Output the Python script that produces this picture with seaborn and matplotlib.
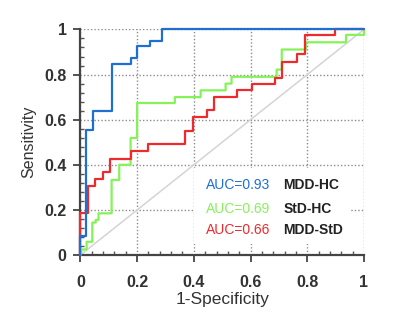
import pandas as pd
import matplotlib.pyplot as plt
import matplotlib.patches as mpatches
from matplotlib.ticker import MultipleLocator
import seaborn as sns

# ROC step corners
mdd_hc_fpr = [0, 0, 0.018, 0.018, 0.043, 0.043, 0.11, 0.11, 0.18, 0.18, 0.20, 0.20,
              0.245, 0.245, 0.286, 0.286, 1]
mdd_hc_tpr = [0, 0.084, 0.084, 0.556, 0.556, 0.637, 0.637, 0.848, 0.848, 0.874, 0.874,
              0.926, 0.926, 0.95, 0.95, 1, 1]

std_hc_fpr = [0, 0.005, 0.022, 0.022, 0.042, 0.042, 0.054, 0.054, 0.064, 0.064, 0.11, 0.11,
              0.137, 0.137, 0.177, 0.177, 0.2, 0.2, 0.333, 0.333, 0.424, 0.424,
              0.512, 0.512, 0.533, 0.533, 0.692, 0.692, 0.71, 0.71, 0.795, 0.795,
              0.937, 0.937, 1, 1]
std_hc_tpr = [0, 0.025, 0.025, 0.059, 0.059, 0.144, 0.144, 0.156, 0.156, 0.185, 0.185, 0.333,
              0.333, 0.4, 0.4, 0.519, 0.519, 0.674, 0.674, 0.70, 0.70, 0.73,
              0.73, 0.76, 0.76, 0.79, 0.79, 0.822, 0.822, 0.911, 0.911, 0.943,
              0.943, 0.976, 0.976, 1]

mdd_std_fpr = [0, 0, 0.026, 0.026, 0.051, 0.051, 0.08, 0.08, 0.104, 0.104, 0.18, 0.18,
               0.239, 0.239, 0.369, 0.369, 0.396, 0.396, 0.445, 0.445, 0.472, 0.472,
               0.553, 0.553, 0.604, 0.604, 0.686, 0.686, 0.71, 0.71, 0.765, 0.765,
               0.792, 0.792, 0.898, 0.898, 1]
mdd_std_tpr = [0, 0.185, 0.185, 0.304, 0.304, 0.336, 0.336, 0.367, 0.367, 0.425, 0.425, 0.459,
               0.459, 0.492, 0.492, 0.548, 0.548, 0.61, 0.61, 0.641, 0.641, 0.70,
               0.70, 0.73, 0.73, 0.76, 0.76, 0.785, 0.785, 0.855, 0.855, 0.889,
               0.889, 0.976, 0.976, 1, 1]

groups = ['MDD-HC', 'StD-HC', 'MDD-StD']
aucs = ['0.93', '0.69', '0.66']
colors = ['#1f6fd3', '#86f25a', '#ee2a2c']
tick_vals = [0, 0.2, 0.4, 0.6, 0.8, 1]
tick_labels = ['0', '0.2', '0.4', '0.6', '0.8', '1']

sns.set_style('white')
plt.rcParams['font.family'] = ['Liberation Sans', 'DejaVu Sans']

rows = []
for g, fx, ty in [('MDD-HC', mdd_hc_fpr, mdd_hc_tpr),
                  ('StD-HC', std_hc_fpr, std_hc_tpr),
                  ('MDD-StD', mdd_std_fpr, mdd_std_tpr)]:
    for i, (a, b) in enumerate(zip(fx, ty)):
        rows.append((g, i, a, b))
df = pd.DataFrame(rows, columns=['group', 'order', 'fpr', 'tpr'])

fig = plt.figure(figsize=(4, 3.27), dpi=100)
ax = fig.add_axes([0.201, 0.22, 0.709, 0.69])

ax.plot([0, 1], [0, 1], color='#d4d4d4', lw=1.1, zorder=2)

draw_order = ['StD-HC', 'MDD-StD', 'MDD-HC']
for g in draw_order:
    sub = df[df['group'] == g]
    sns.lineplot(data=sub, x='fpr', y='tpr', sort=False, estimator=None,
                 color=colors[groups.index(g)], lw=1.6, ax=ax, zorder=3,
                 clip_on=False)

ax.set_xlim(0, 1)
ax.set_ylim(0, 1)
ax.set_xticks(tick_vals)
ax.set_yticks(tick_vals)
ax.set_xticklabels(tick_labels, fontweight='bold', fontsize=11.5, color='#333333')
ax.set_yticklabels(tick_labels, fontweight='bold', fontsize=11.5, color='#333333')
ax.xaxis.set_minor_locator(MultipleLocator(0.04))
ax.yaxis.set_minor_locator(MultipleLocator(0.04))
ax.tick_params(which='major', direction='out', length=5, width=1.3, color='#444444',
               bottom=True, left=True)
ax.tick_params(axis='x', which='major', pad=9)
ax.tick_params(axis='y', which='major', pad=5)
ax.tick_params(which='minor', direction='in', length=3, width=1, color='#555555',
               bottom=True, left=True)

ax.grid(True, which='major', ls=(0, (1, 1.5)), color='#8c8c8c', lw=1)
ax.set_axisbelow(True)
for s in ['top', 'right']:
    ax.spines[s].set_visible(False)
for s in ['left', 'bottom']:
    ax.spines[s].set_color('#444444')
    ax.spines[s].set_linewidth(1.6)

ax.set_xlabel('1-Specificity', fontsize=12.5, color='#333333', labelpad=2)
ax.set_ylabel('Sensitivity', fontsize=11.5, color='#333333', labelpad=6)

# white box behind the AUC labels
ax.add_patch(mpatches.Rectangle((0.40, 0.05), 0.55, 0.335, facecolor='white',
                                edgecolor='none', zorder=1.5))
for i, (g, a, c) in enumerate(zip(groups, aucs, colors)):
    y = [0.311, 0.205, 0.111][i]
    ax.text(0.443, y, f'AUC={a}', color=c, fontsize=10, va='center', ha='left', zorder=4)
    ax.text(0.715, y, g, color='#222222', fontsize=10, fontweight='semibold',
            va='center', ha='left', zorder=4)

fig.savefig('out.png', dpi=100)
